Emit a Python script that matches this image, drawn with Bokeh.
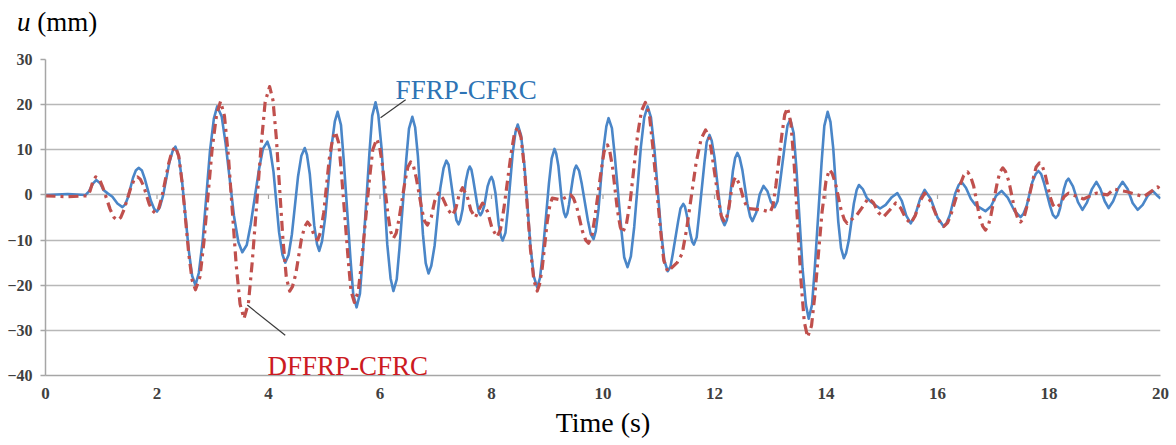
from bokeh.plotting import figure
from bokeh.models import Range1d, FixedTicker, Label, Div, ColumnDataSource
from bokeh.layouts import column
from bokeh.embed import file_html
from bokeh.resources import INLINE

# ---------------- data ----------------
x_ticks = [0, 2, 4, 6, 8, 10, 12, 14, 16, 18, 20]
y_ticks = [-40, -30, -20, -10, 0, 10, 20, 30]

# FFRP-CFRC displacement u (mm) against time (s)
ffrp_points = [
    (0.00, 0.0), (0.40, 0.2), (0.72, 0.0), (0.78, 0.8), (0.85, 2.5), (0.91, 3.3), (0.98, 2.6),
    (1.04, 1.1), (1.11, 0.4), (1.20, -0.4), (1.29, -1.9), (1.38, -2.7),
    (1.43, -2.1), (1.48, -0.5), (1.57, 3.8), (1.62, 5.4), (1.67, 6.0),
    (1.73, 5.4), (1.78, 3.6), (1.89, -1.3), (1.95, -3.1), (2.00, -3.7),
    (2.05, -2.7), (2.11, -0.1), (2.22, 7.1), (2.28, 9.7), (2.33, 10.7),
    (2.39, 8.6), (2.45, 3.0), (2.57, -12.3), (2.63, -17.9), (2.69, -20.0),
    (2.75, -17.3), (2.82, -10.1), (2.95, 9.7), (3.02, 16.9), (3.08, 19.6),
    (3.16, 17.4), (3.23, 11.5), (3.38, -4.6), (3.46, -10.5), (3.53, -12.7),
    (3.61, -11.1), (3.68, -6.6), (3.83, 5.7), (3.90, 10.2), (3.98, 11.8),
    (4.03, 10.0), (4.09, 5.1), (4.19, -8.3), (4.25, -13.2), (4.30, -15.0),
    (4.36, -13.3), (4.42, -8.7), (4.53, 4.1), (4.59, 8.7), (4.65, 10.4),
    (4.69, 8.9), (4.74, 4.7), (4.82, -6.7), (4.87, -10.9), (4.91, -12.4),
    (4.96, -10.3), (5.02, -4.7), (5.13, 10.7), (5.19, 16.3), (5.24, 18.4),
    (5.30, 15.5), (5.35, 7.6), (5.47, -14.1), (5.52, -22.0), (5.58, -24.9),
    (5.64, -21.9), (5.69, -13.6), (5.81, 9.2), (5.86, 17.5), (5.92, 20.5),
    (5.97, 17.7), (6.03, 10.1), (6.13, -10.9), (6.19, -18.5), (6.24, -21.3),
    (6.30, -18.7), (6.35, -11.7), (6.47, 7.7), (6.52, 14.7), (6.58, 17.3),
    (6.63, 15.0), (6.68, 8.6), (6.77, -8.7), (6.82, -15.1), (6.87, -17.4),
    (6.92, -15.7), (6.98, -11.2), (7.08, 1.4), (7.14, 5.9), (7.19, 7.6),
    (7.23, 6.7), (7.26, 4.1), (7.34, -3.0), (7.37, -5.6), (7.41, -6.5),
    (7.44, -5.6), (7.48, -3.3), (7.54, 3.1), (7.58, 5.4), (7.61, 6.3),
    (7.64, 5.6), (7.67, 3.6), (7.74, -1.8), (7.77, -3.8), (7.80, -4.5),
    (7.83, -3.9), (7.87, -2.4), (7.93, 1.9), (7.97, 3.4), (8.00, 4.0),
    (8.03, 3.1), (8.07, 0.5), (8.13, -6.6), (8.17, -9.2), (8.20, -10.1),
    (8.25, -8.4), (8.29, -3.7), (8.38, 9.2), (8.43, 13.9), (8.47, 15.6),
    (8.53, 13.2), (8.59, 6.6), (8.70, -11.5), (8.76, -18.1), (8.82, -20.5),
    (8.87, -18.4), (8.92, -12.8), (9.03, 2.5), (9.08, 8.1), (9.13, 10.2),
    (9.16, 9.2), (9.20, 6.4), (9.26, -1.1), (9.30, -3.9), (9.33, -4.9),
    (9.36, -4.1), (9.39, -2.1), (9.46, 3.7), (9.49, 5.7), (9.52, 6.5),
    (9.57, 5.4), (9.62, 2.4), (9.73, -5.7), (9.78, -8.7), (9.83, -9.8),
    (9.87, -8.0), (9.92, -3.1), (10.01, 10.3), (10.06, 15.2), (10.10, 17.0),
    (10.16, 14.8), (10.21, 8.8), (10.33, -7.8), (10.38, -13.8), (10.44, -16.0),
    (10.50, -13.6), (10.56, -7.1), (10.68, 10.7), (10.74, 17.2), (10.80, 19.6),
    (10.86, 17.2), (10.92, 10.5), (11.04, -7.8), (11.10, -14.5), (11.16, -16.9),
    (11.21, -15.9), (11.25, -13.2), (11.35, -5.7), (11.39, -3.0), (11.44, -2.0),
    (11.47, -2.6), (11.50, -4.3), (11.57, -8.8), (11.60, -10.4), (11.63, -11.0),
    (11.68, -9.4), (11.72, -4.9), (11.82, 7.2), (11.86, 11.7), (11.91, 13.3),
    (11.95, 12.0), (12.00, 8.3), (12.09, -1.7), (12.13, -5.4), (12.18, -6.7),
    (12.22, -5.6), (12.26, -2.7), (12.33, 5.3), (12.37, 8.2), (12.41, 9.3),
    (12.45, 8.3), (12.50, 5.5), (12.59, -2.0), (12.64, -4.8), (12.68, -5.8),
    (12.75, -3.9), (12.81, 0.1), (12.88, 2.0), (12.95, 0.8), (13.01, -1.5), (13.08, -2.7),
    (13.13, -1.4), (13.17, 2.2), (13.27, 11.9), (13.31, 15.4), (13.36, 16.7),
    (13.42, 13.7), (13.47, 5.7), (13.58, -16.4), (13.64, -24.4), (13.69, -27.4),
    (13.75, -24.3), (13.80, -16.0), (13.92, 7.0), (13.97, 15.3), (14.03, 18.4),
    (14.08, 16.2), (14.13, 10.3), (14.22, -5.9), (14.27, -11.8), (14.32, -14.0),
    (14.36, -12.9), (14.41, -10.0), (14.50, -1.9), (14.55, 1.1), (14.59, 2.2),
    (14.66, 1.3), (14.73, -0.6), (14.80, -1.5), (14.97, -3.0), (15.07, -2.2), (15.18, -0.5),
    (15.28, 0.4), (15.36, -1.3), (15.44, -4.6), (15.52, -6.3), (15.60, -4.5), (15.69, -0.8),
    (15.77, 1.1), (15.88, -0.9), (16.00, -5.0), (16.11, -7.0),
    (16.16, -6.3), (16.22, -4.5), (16.32, 0.4), (16.38, 2.2), (16.43, 2.9),
    (16.51, 1.6), (16.60, -0.9), (16.68, -2.2), (16.86, -3.6), (16.96, -2.5), (17.05, -0.2),
    (17.15, 0.9), (17.26, -0.6), (17.38, -3.5), (17.49, -4.9),
    (17.54, -4.2), (17.60, -2.4), (17.70, 2.8), (17.76, 4.6), (17.81, 5.3),
    (17.86, 4.6), (17.91, 2.7), (18.02, -2.5), (18.07, -4.4), (18.12, -5.1),
    (18.16, -4.5), (18.20, -2.9), (18.27, 1.4), (18.31, 3.0), (18.35, 3.6),
    (18.43, 1.9), (18.52, -1.6), (18.60, -3.3), (18.68, -1.7), (18.77, 1.3), (18.85, 2.9),
    (18.92, 1.4), (19.00, -1.4), (19.07, -2.9), (19.15, -1.4), (19.24, 1.4), (19.32, 2.9),
    (19.41, 1.3), (19.50, -1.8), (19.59, -3.3), (19.68, -2.2), (19.77, -0.2), (19.86, 0.9),
    (19.93, 0.0), (20.00, -0.8),
]

# DFFRP-CFRC displacement u (mm) against time (s)
dffrp_points = [
    (0.00, -0.2), (0.40, -0.4), (0.75, -0.2), (0.80, 0.9), (0.85, 3.0), (0.90, 4.0),
    (0.97, 3.4), (1.03, 1.6), (1.16, -3.2), (1.23, -5.0), (1.29, -5.6),
    (1.35, -5.0), (1.41, -3.2), (1.53, 1.6), (1.59, 3.4), (1.65, 4.0),
    (1.70, 3.5), (1.76, 2.0), (1.86, -2.0), (1.92, -3.5), (1.97, -4.0),
    (2.03, -3.0), (2.09, -0.3), (2.21, 7.0), (2.27, 9.7), (2.33, 10.7),
    (2.39, 8.6), (2.45, 2.8), (2.57, -13.1), (2.63, -18.9), (2.69, -21.0),
    (2.77, -18.2), (2.84, -10.6), (2.99, 10.3), (3.07, 17.9), (3.14, 20.7),
    (3.21, 17.5), (3.28, 8.7), (3.42, -15.4), (3.49, -24.2), (3.56, -27.4),
    (3.64, -24.0), (3.71, -14.6), (3.87, 11.2), (3.94, 20.6), (4.02, 24.0),
    (4.08, 21.0), (4.14, 12.7), (4.26, -10.0), (4.32, -18.3), (4.38, -21.3),
    (4.43, -20.3), (4.49, -17.5), (4.59, -9.8), (4.65, -7.0), (4.70, -6.0),
    (4.76, -7.0), (4.82, -9.0), (4.88, -10.0),
    (4.93, -8.4), (4.99, -4.0), (5.09, 8.0), (5.15, 12.4), (5.20, 14.0),
    (5.26, 11.5), (5.31, 4.6), (5.43, -14.4), (5.48, -21.3), (5.54, -23.8),
    (5.61, -21.4), (5.67, -14.8), (5.81, 3.4), (5.87, 10.0), (5.94, 12.4),
    (5.99, 10.9), (6.04, 6.9), (6.14, -4.1), (6.19, -8.1), (6.24, -9.6),
    (6.29, -8.5), (6.34, -5.4), (6.45, 3.1), (6.50, 6.2), (6.55, 7.3),
    (6.60, 6.4), (6.65, 3.8), (6.75, -3.2), (6.80, -5.8), (6.85, -6.7),
    (6.92, -4.9), (6.98, -1.4), (7.05, 0.4), (7.13, -0.8), (7.22, -3.3), (7.30, -4.5),
    (7.36, -3.0), (7.42, 0.1), (7.48, 1.6), (7.56, -0.1), (7.63, -3.4), (7.71, -5.0),
    (7.77, -3.4), (7.84, -1.8), (7.93, -3.7), (8.01, -7.4), (8.10, -9.3),
    (8.16, -7.7), (8.22, -3.2), (8.35, 9.0), (8.41, 13.5), (8.47, 15.1),
    (8.53, 12.7), (8.59, 6.0), (8.70, -12.2), (8.76, -18.9), (8.82, -21.3),
    (8.86, -19.9), (8.91, -16.2), (9.00, -5.9), (9.05, -2.1), (9.09, -0.7),
    (9.24, -1.1), (9.42, 0.0),
    (9.47, -0.7), (9.53, -2.7), (9.63, -8.0), (9.69, -10.0), (9.74, -10.7),
    (9.80, -9.2), (9.85, -5.3), (9.97, 5.6), (10.02, 9.6), (10.08, 11.1),
    (10.12, 9.8), (10.17, 6.2), (10.26, -3.5), (10.31, -7.1), (10.35, -8.4),
    (10.42, -6.5), (10.49, -1.2), (10.62, 13.3), (10.69, 18.6), (10.76, 20.5),
    (10.83, 18.0), (10.89, 11.1), (11.03, -7.6), (11.09, -14.5), (11.16, -17.0),
    (11.33, -15.0),
    (11.42, -13.0), (11.50, -7.6), (11.67, 7.1), (11.76, 12.4), (11.84, 14.4),
    (11.90, 13.0), (11.95, 9.3), (12.07, -0.9), (12.12, -4.6), (12.18, -6.0),
    (12.21, -5.3), (12.25, -3.5), (12.31, 1.5), (12.35, 3.3), (12.38, 4.0),
    (12.45, 2.3), (12.53, -1.3), (12.60, -3.0), (12.85, -3.3), (13.00, -3.8),
    (13.05, -2.3), (13.10, 2.0), (13.21, 13.5), (13.26, 17.8), (13.31, 19.3),
    (13.37, 15.9), (13.43, 6.6), (13.55, -18.8), (13.61, -28.1), (13.67, -31.5),
    (13.74, -29.0), (13.80, -22.2), (13.93, -3.7), (14.00, 3.1), (14.06, 5.6),
    (14.11, 4.8), (14.17, 2.6), (14.27, -3.3), (14.33, -5.5), (14.38, -6.3),
    (14.55, -4.5), (14.66, -2.6), (14.76, -0.7), (14.85, -1.7), (14.94, -3.9), (15.03, -4.9),
    (15.14, -3.4), (15.25, -1.8), (15.34, -2.9), (15.43, -5.2), (15.52, -6.3), (15.60, -4.6),
    (15.69, -1.3), (15.77, 0.4), (15.88, -1.5), (16.00, -5.2), (16.11, -7.0),
    (16.18, -6.2), (16.25, -4.0), (16.40, 2.1), (16.47, 4.3), (16.54, 5.1),
    (16.59, 4.2), (16.65, 1.9), (16.75, -4.6), (16.81, -6.9), (16.86, -7.8),
    (16.91, -6.9), (16.96, -4.4), (17.07, 2.6), (17.12, 5.1), (17.17, 6.0),
    (17.22, 5.2), (17.28, 3.0), (17.38, -3.0), (17.44, -5.2), (17.49, -6.0),
    (17.55, -5.1), (17.60, -2.7), (17.72, 3.8), (17.77, 6.2), (17.83, 7.1),
    (17.88, 6.4), (17.93, 4.6), (18.02, -0.4), (18.07, -2.2), (18.12, -2.9),
    (18.20, -2.1), (18.27, -0.4), (18.35, 0.4), (18.62, -0.9), (18.85, 0.4), (19.05, 0.0),
    (19.16, 1.3), (19.40, 0.7), (19.70, -0.4), (19.95, 1.8), (20.00, 1.2),
]

# annotation placement (label text + leader lines)
notes = {
    "FFRP-CFRC": dict(text_xy=(6.28, 23.3), leader=((6.01, 17.1), (6.46, 21.1)), color="#2E74B5"),
    "DFFRP-CFRC": dict(text_xy=(3.98, -37.8), leader=((3.62, -24.4), (4.30, -31.1)), color="#CC1A22"),
}

FONT = "Liberation Serif"
HEAD_H = 40

src_ffrp = ColumnDataSource(dict(t=[a for a, _ in ffrp_points], u=[b for _, b in ffrp_points]))
src_dffrp = ColumnDataSource(dict(t=[a for a, _ in dffrp_points], u=[b for _, b in dffrp_points]))

# ---------------- header with the y-quantity title ----------------
head = Div(text=('<div style="font-family:\'Liberation Serif\';font-size:27px;line-height:31px;'
                 'color:#000;margin:7px 0 0 17px;white-space:nowrap;">'
                 '<i>u</i> (mm)</div>'),
           width=1176, height=HEAD_H, margin=(0, 0, 0, 0))

# ---------------- figure ----------------
p = figure(width=1176, height=445 - HEAD_H, x_range=Range1d(0, 20), y_range=Range1d(-40, 30),
           output_backend="svg", toolbar_location=None, margin=(0, 0, 0, 0),
           min_border_left=45, min_border_right=16, min_border_top=59 - HEAD_H,
           min_border_bottom=70)
p.outline_line_color = None
p.background_fill_color = "white"
p.border_fill_color = "white"

p.xgrid.grid_line_color = None
p.ygrid.ticker = FixedTicker(ticks=y_ticks)
p.ygrid.grid_line_color = "#B8B8B8"
p.ygrid.grid_line_width = 1.5

# y axis
p.yaxis.ticker = FixedTicker(ticks=y_ticks)
p.yaxis.axis_line_color = "#A6A6A6"
p.yaxis.axis_line_width = 1.5
p.yaxis.major_tick_line_color = "#A6A6A6"
p.yaxis.major_tick_line_width = 1.5
p.yaxis.major_tick_out = 5
p.yaxis.major_tick_in = 0
p.yaxis.minor_tick_line_color = None
p.yaxis.major_label_standoff = 8
p.yaxis.major_label_text_font = FONT
p.yaxis.major_label_text_font_style = "bold"
p.yaxis.major_label_text_font_size = "16px"
p.yaxis.major_label_text_color = "#404040"

# x axis
p.xaxis.ticker = FixedTicker(ticks=x_ticks)
p.xaxis.axis_line_color = "#A6A6A6"
p.xaxis.axis_line_width = 1.5
p.xaxis.major_tick_line_color = None
p.xaxis.minor_tick_line_color = None
p.xaxis.major_tick_out = 0
p.xaxis.major_tick_in = 0
p.xaxis.major_label_standoff = 12
p.xaxis.major_label_text_font = FONT
p.xaxis.major_label_text_font_style = "bold"
p.xaxis.major_label_text_font_size = "17px"
p.xaxis.major_label_text_color = "#404040"
p.xaxis.axis_label = "Time (s)"
p.xaxis.axis_label_text_font = FONT
p.xaxis.axis_label_text_font_style = "normal"
p.xaxis.axis_label_text_font_size = "28px"
p.xaxis.axis_label_text_color = "black"
p.xaxis.axis_label_standoff = 5

# small tick marks on the zero line (Excel category axis crossing at 0)
p.segment(x0=x_ticks[1:-1], y0=[0] * (len(x_ticks) - 2), x1=x_ticks[1:-1],
          y1=[-0.9] * (len(x_ticks) - 2), line_color="#A6A6A6", line_width=1.2)

# series
p.line("t", "u", source=src_ffrp, line_color="#4A86C8", line_width=2.6, line_join="round")
p.line("t", "u", source=src_dffrp, line_color="#C0504D", line_width=3.2, line_dash="10 5 3 5",
       line_join="round")

# annotations
for name, cfg in notes.items():
    (x0, y0), (x1, y1) = cfg["leader"]
    p.segment(x0=[x0], y0=[y0], x1=[x1], y1=[y1], line_color="#3A3A3A", line_width=1.2)
    tx, ty = cfg["text_xy"]
    p.add_layout(Label(x=tx, y=ty, text=name, text_font=FONT, text_font_size="27px",
                       text_color=cfg["color"], text_baseline="alphabetic", text_align="left"))

page = column(head, p, spacing=0, margin=(0, 0, 0, 0))
open("out.html", "w").write(file_html(page, INLINE))
